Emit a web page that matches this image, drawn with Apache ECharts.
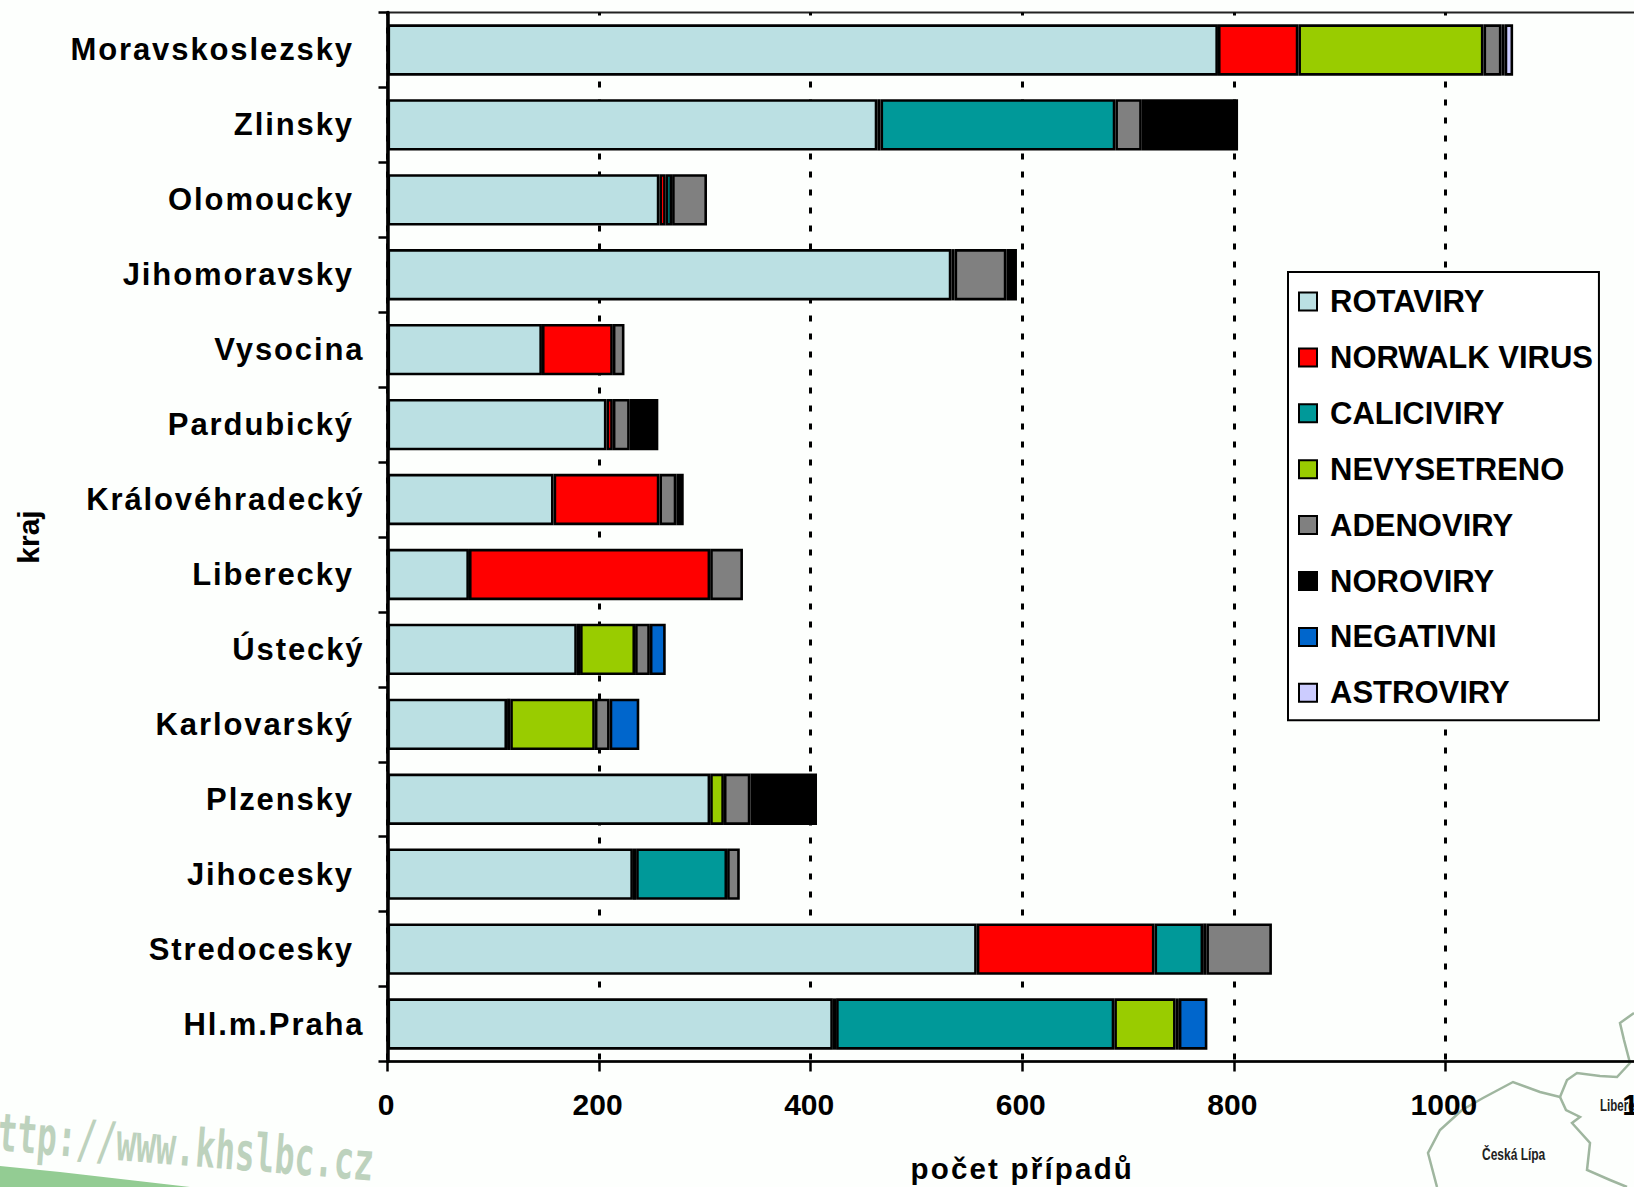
<!DOCTYPE html>
<html>
<head>
<meta charset="utf-8">
<style>html,body{margin:0;padding:0;background:#fdfffd;overflow:hidden}#c{width:1634px;height:1187px}</style>
<script src="https://cdn.jsdelivr.net/npm/echarts@6/dist/echarts.min.js"></script>
</head>
<body>
<div id="c"></div>
<script>
// Category names: those with a trailing no-break space carry it in the source chart.
const categories = ['Moravskoslezsky\u00a0','Zlinsky\u00a0','Olomoucky\u00a0','Jihomoravsky\u00a0','Vysocina','Pardubický\u00a0','Královéhradecký','Liberecky\u00a0','Ústecký','Karlovarský\u00a0','Plzensky\u00a0','Jihocesky\u00a0','Stredocesky\u00a0','Hl.m.Praha'];
const rotaviry    = [785,463,257,533,146,207,157, 77,179,113,305,232,557,421];
const norwalk     = [ 76,  3,  6,  3, 67,  6,100,228,  3,  3,null,  3,168,  3];
const calicivry   = [null,222,  6,null,null,null,null,null,null,null,null, 86, 46,263];
const nevysetreno = [175,null,null,null,null,null,null,null, 52, 80, 13,null,  3, 58];
const adenoviry   = [ 17, 25, 33, 49, 11, 16, 16, 31, 14, 14, 25, 12, 62,  3];
const noroviry    = [  3, 91,null, 10,null, 27,  7,null,null,null, 63,null,null,null];
const negativni   = [null,null,null,null,null,null,null,null, 15, 28,null,null,null, 27];
const astroviry   = [  8,null,null,null,null,null,null,null,null,null,null,null,null,null];
const seriesNames = ['ROTAVIRY','NORWALK VIRUS','CALICIVIRY','NEVYSETRENO','ADENOVIRY','NOROVIRY','NEGATIVNI','ASTROVIRY'];
const seriesData  = [rotaviry,norwalk,calicivry,nevysetreno,adenoviry,noroviry,negativni,astroviry];
const colors      = ['#bbe0e3','#ff0000','#009999','#99cc00','#808080','#000000','#0066cc','#ccccff'];

const FONT = '"Liberation Sans", Arial, sans-serif';
const chart = echarts.init(document.getElementById('c'), null, {renderer:'svg', width:1634, height:1187});

const mapLines = [
  [[1437,1187],[1428,1153],[1440,1130],[1462,1110],[1483,1098],[1513,1082],[1540,1092],[1560,1097],[1567,1080],[1577,1073],[1600,1076],[1617,1077],[1630,1063],[1624,1040],[1620,1023],[1634,1013]],
  [[1560,1097],[1566,1110],[1580,1117],[1572,1123],[1590,1143],[1587,1170],[1610,1180],[1627,1187]]
];

chart.setOption({
  animation:false,
  backgroundColor:'#fdfffd',
  graphic:[
    {type:'polygon',z:-5,silent:true,shape:{points:[[0,1166],[60,1172],[190,1187],[0,1187]]},style:{fill:'#93cc93'}},
    {type:'text',z:-5,silent:true,x:-20,y:1104,rotation:-0.08,scaleY:1.6,style:{text:'http://www.khslbc.cz',font:'bold 33px "DejaVu Sans Mono"',fill:'#bdd2bd'}},
    {type:'polyline',z:-5,silent:true,shape:{points:mapLines[0]},style:{stroke:'#9fb69f',lineWidth:2.5,fill:null}},
    {type:'polyline',z:-5,silent:true,shape:{points:mapLines[1]},style:{stroke:'#9fb69f',lineWidth:2.5,fill:null}},
    {type:'text',z:-5,silent:true,x:1482,y:1146,scaleX:0.75,style:{text:'Česká Lípa',font:'bold 16px "Liberation Sans"',fill:'#222'}},
    {type:'text',z:-5,silent:true,x:1600,y:1097,scaleX:0.72,style:{text:'Liberec',font:'bold 16px "Liberation Sans"',fill:'#222'}}
  ],
  grid:{show:true,left:387.5,top:12.5,width:1269.5,height:1049,borderColor:'#222',borderWidth:2,backgroundColor:'transparent',containLabel:false,outerBoundsMode:'none'},
  legend:{
    show:true,orient:'vertical',left:1288,top:272,
    backgroundColor:'#ffffff',borderColor:'#000',borderWidth:2,borderRadius:0,
    padding:[14,6,12,10],itemWidth:18,itemHeight:18,itemGap:24.9,icon:'rect',selectedMode:false,
    textStyle:{fontFamily:FONT,fontWeight:'bold',fontSize:31,color:'#000',padding:[0,0,0,8]},
    data:seriesNames
  },
  xAxis:{
    type:'value',position:'bottom',min:0,max:1200,interval:200,
    name:'počet případů',nameLocation:'middle',nameGap:92,
    nameTextStyle:{fontFamily:FONT,fontWeight:'bold',fontSize:29.5,color:'#000'},
    axisLine:{show:true,lineStyle:{color:'#000',width:2.5}},
    axisTick:{show:true,length:10,lineStyle:{color:'#000',width:2.5}},
    axisLabel:{fontFamily:FONT,fontWeight:'bold',fontSize:30,color:'#000',margin:28,padding:[0,3,0,0],hideOverlap:false,showMaxLabel:true,formatter:v=>String(v)},
    splitLine:{show:true,lineStyle:{color:'#000',width:3,type:[6,12],dashOffset:2.5}}
  },
  yAxis:{
    type:'category',inverse:true,data:categories,offset:2.5,
    name:'kraj',nameLocation:'middle',nameGap:342,nameRotate:90,
    nameTextStyle:{fontFamily:FONT,fontWeight:'bold',fontSize:30,color:'#000'},
    axisLine:{show:true,lineStyle:{color:'#000',width:3.5}},
    axisTick:{show:true,length:9,lineStyle:{color:'#000',width:2.5}},
    axisLabel:{fontFamily:FONT,fontWeight:'bold',fontSize:31,color:'#000',margin:20.5,interval:0}
  },
  series:seriesNames.map((name,i)=>({
    name,type:'bar',stack:'total',barWidth:'68.5%',data:seriesData[i],
    itemStyle:{color:colors[i],borderColor:'#000',borderWidth:2.6}
  }))
});

// Source labels are visibly letter-spaced; the SVG renderer lets us apply that to the live text.
const spaced = new Set(categories);
document.querySelectorAll('#c svg text').forEach(t=>{
  if(spaced.has(t.textContent)) t.style.letterSpacing='1.9px';
  if(t.textContent==='počet případů') t.style.letterSpacing='2.2px';
});
</script>
</body>
</html>
